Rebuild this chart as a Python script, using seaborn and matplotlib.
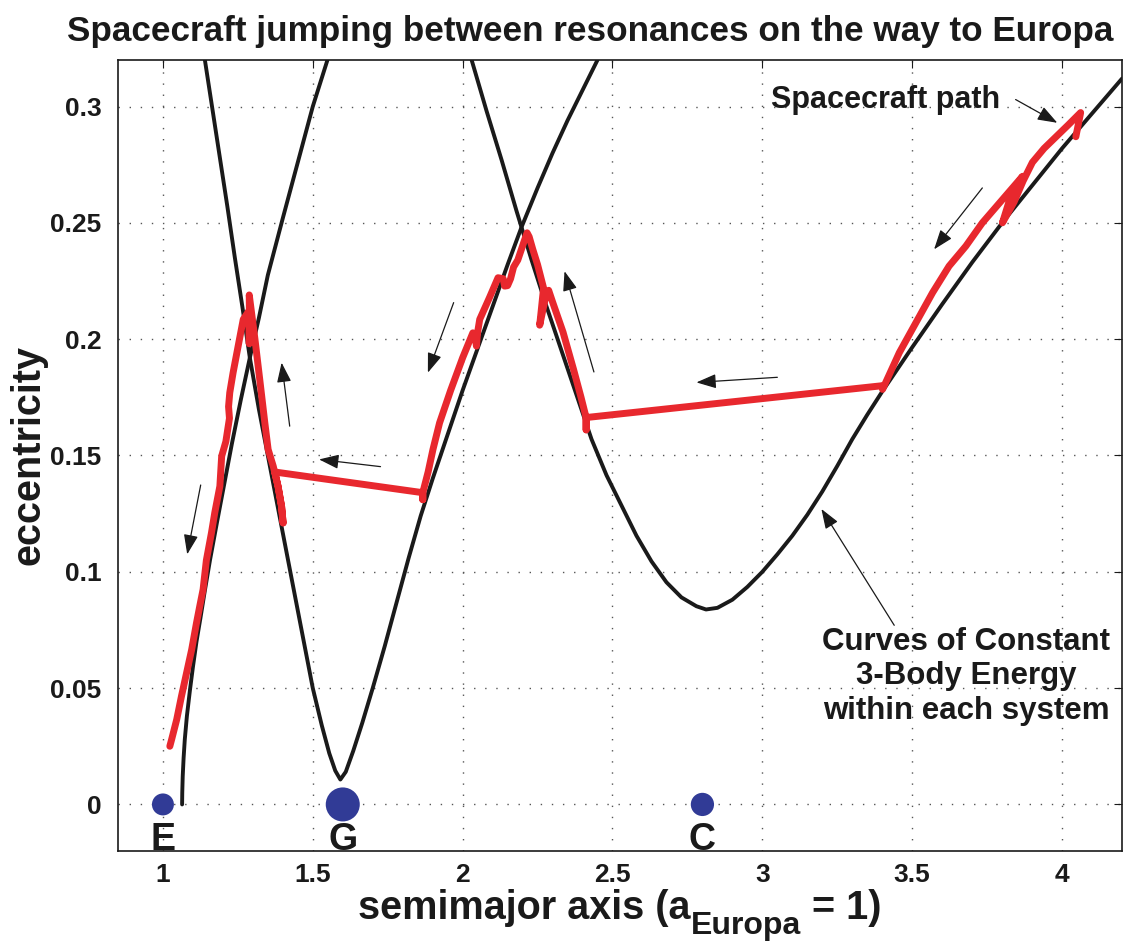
import matplotlib
matplotlib.use("Agg")
import matplotlib.pyplot as plt
import seaborn as sns
import pandas as pd

# ---------------- data ----------------
# Curve of constant 3-body energy, Europa system
europa_a = [1.064, 1.0645, 1.066, 1.069, 1.073, 1.080, 1.090, 1.100, 1.112, 1.125,
            1.140, 1.157, 1.180, 1.205, 1.230, 1.260, 1.290, 1.320, 1.350, 1.400,
            1.450, 1.500, 1.549]
europa_e = [0.000, 0.005, 0.012, 0.020, 0.028, 0.038, 0.049, 0.059, 0.070, 0.080,
            0.092, 0.105, 0.121, 0.138, 0.155, 0.174, 0.192, 0.209, 0.2275, 0.252,
            0.276, 0.300, 0.320]

# Ganymede system (V shape)
ganymede_a = [1.140, 1.165, 1.190, 1.215, 1.240, 1.265, 1.290, 1.320, 1.350, 1.380,
              1.410, 1.440, 1.470, 1.500, 1.530, 1.555, 1.575, 1.592, 1.610, 1.635,
              1.665, 1.700, 1.740, 1.780, 1.820, 1.860, 1.900, 1.950, 2.000, 2.050,
              2.100, 2.150, 2.196, 2.250, 2.300, 2.350, 2.400, 2.450]
ganymede_e = [0.320, 0.299, 0.278, 0.257, 0.235, 0.214, 0.192, 0.170, 0.150, 0.130,
              0.110, 0.090, 0.070, 0.050, 0.034, 0.022, 0.0145, 0.0107, 0.014, 0.023,
              0.035, 0.050, 0.068, 0.087, 0.106, 0.124, 0.140, 0.159, 0.178, 0.196,
              0.214, 0.232, 0.248, 0.265, 0.280, 0.294, 0.307, 0.320]

# Callisto system (U shape)
callisto_a = [2.030, 2.080, 2.130, 2.180, 2.230, 2.280, 2.330, 2.380, 2.430, 2.480,
              2.530, 2.580, 2.630, 2.680, 2.730, 2.780, 2.812, 2.850, 2.900, 2.950,
              3.000, 3.050, 3.100, 3.150, 3.200, 3.250, 3.300, 3.350, 3.400, 3.450,
              3.500, 3.600, 3.700, 3.800, 3.900, 4.000, 4.100, 4.200]
callisto_e = [0.320, 0.298, 0.277, 0.255, 0.234, 0.214, 0.195, 0.176, 0.157, 0.1415,
              0.1285, 0.1155, 0.1045, 0.0955, 0.0890, 0.0852, 0.0838, 0.0845, 0.0880, 0.0935,
              0.1000, 0.1075, 0.1155, 0.1245, 0.1345, 0.1455, 0.1570, 0.1675, 0.1775, 0.1870,
              0.1965, 0.2150, 0.2330, 0.2500, 0.2660, 0.2820, 0.2970, 0.3120]

# Spacecraft path (in time order, from Callisto inward)
path_a = [4.046, 4.062, 4.020, 3.980, 3.940, 3.901, 3.870, 3.840, 3.801, 3.830, 3.868,
          3.868, 3.801, 3.734, 3.679, 3.623, 3.568, 3.512, 3.457, 3.401,
          3.401, 2.412, 2.412, 2.412,
          2.395, 2.370, 2.335, 2.300, 2.287, 2.275, 2.262, 2.257, 2.262, 2.270,
          2.250, 2.234, 2.222, 2.215, 2.205, 2.184, 2.170, 2.160, 2.150, 2.140,
          2.135, 2.118, 2.090, 2.057, 2.050, 2.046, 2.043, 2.034, 2.000, 1.960,
          1.923, 1.901, 1.885, 1.867, 1.867, 1.867,
          1.373, 1.384, 1.396, 1.401, 1.396, 1.384, 1.368, 1.351, 1.340, 1.323,
          1.307, 1.296, 1.288, 1.289, 1.288, 1.286, 1.268, 1.251, 1.234, 1.223,
          1.219, 1.222, 1.210, 1.196, 1.190, 1.173, 1.162, 1.145, 1.134, 1.123,
          1.112, 1.096, 1.079, 1.062, 1.046, 1.029, 1.023]
path_e = [0.287, 0.2974, 0.292, 0.287, 0.282, 0.276, 0.268, 0.259, 0.250, 0.262, 0.270,
          0.270, 0.260, 0.250, 0.240, 0.2314, 0.220, 0.207, 0.1942, 0.1784,
          0.1800, 0.1663, 0.161, 0.1663,
          0.175, 0.187, 0.203, 0.216, 0.221, 0.217, 0.209, 0.206, 0.212, 0.222,
          0.232, 0.2386, 0.244, 0.2457, 0.242, 0.234, 0.231, 0.226, 0.223, 0.2228,
          0.226, 0.2264, 0.218, 0.2085, 0.203, 0.197, 0.200, 0.2027, 0.192, 0.178,
          0.164, 0.1526, 0.143, 0.134, 0.131, 0.134,
          0.1429, 0.1368, 0.128, 0.121, 0.128, 0.1368, 0.1454, 0.1526, 0.164, 0.1827,
          0.200, 0.211, 0.219, 0.205, 0.198, 0.212, 0.2085, 0.197, 0.1855, 0.177,
          0.171, 0.166, 0.156, 0.1497, 0.1368, 0.1254, 0.1168, 0.105, 0.0924, 0.0853,
          0.078, 0.0666, 0.0566, 0.0466, 0.0365, 0.0279, 0.025]

# Moons
moon_names = ["E", "G", "C"]
moon_a = [1.0, 1.6, 2.8]
moon_e = [0.0, 0.0, 0.0]
moon_size = [250, 600, 280]

# Direction arrows: (tail_a, tail_e, head_a, head_e)
arrow_tail_a = [1.126, 1.423, 1.726, 1.970, 2.438, 3.050, 3.734, 3.845, 3.440]
arrow_tail_e = [0.1373, 0.1626, 0.1452, 0.2157, 0.1859, 0.1836, 0.2650, 0.3030, 0.0770]
arrow_head_a = [1.081, 1.396, 1.521, 1.884, 2.340, 2.780, 3.573, 3.984, 3.197]
arrow_head_e = [0.1075, 0.1899, 0.1483, 0.1856, 0.2292, 0.1814, 0.2386, 0.2930, 0.1270]

xticks = [1, 1.5, 2, 2.5, 3, 3.5, 4]
xticklabels = ["1", "1.5", "2", "2.5", "3", "3.5", "4"]
yticks = [0, 0.05, 0.1, 0.15, 0.2, 0.25, 0.3]
yticklabels = ["0", "0.05", "0.1", "0.15", "0.2", "0.25", "0.3"]

title = "Spacecraft jumping between resonances on the way to Europa"
label_path = "Spacecraft path"
label_curves = "Curves of Constant\n3-Body Energy\nwithin each system"
xlabel_parts = ["semimajor axis (a", "Europa", " = 1)"]
ylabel = "eccentricity"

# ---------------- style ----------------
sns.set_theme(style="white")
plt.rcParams["font.family"] = ["Liberation Sans", "DejaVu Sans"]
plt.rcParams["font.weight"] = "bold"

INK = "#1a1a1a"
fig = plt.figure(figsize=(11.42, 9.43), dpi=100)
ax = fig.add_axes([0.1033, 0.0976, 0.8792, 0.8388])

curve_kw = dict(color=INK, linewidth=2.8, sort=False, estimator=None, ax=ax, legend=False)
for xa, ye in [(europa_a, europa_e), (ganymede_a, ganymede_e), (callisto_a, callisto_e)]:
    sns.lineplot(x=xa, y=ye, **curve_kw)

sns.lineplot(x=path_a, y=path_e, color="#e8282e", linewidth=5.0, sort=False,
             estimator=None, ax=ax, legend=False,
             solid_capstyle="round", solid_joinstyle="round")

moons = pd.DataFrame({"a": moon_a, "e": moon_e, "s": moon_size, "name": moon_names})
sns.scatterplot(data=moons, x="a", y="e", size="s", sizes=(min(moon_size), max(moon_size)),
                color="#313b96", edgecolor="none", legend=False, ax=ax, zorder=5)
for n, a in zip(moon_names, moon_a):
    ax.text(a, -0.0075, n, ha="center", va="top", fontsize=27, fontweight="bold",
            color=INK, clip_on=True)

arrow_props = dict(arrowstyle="-|>,head_length=0.55,head_width=0.2", color=INK,
                   lw=0.9, shrinkA=0, shrinkB=0, mutation_scale=22)
for ta, te, ha_, he in zip(arrow_tail_a, arrow_tail_e, arrow_head_a, arrow_head_e):
    ax.annotate("", xy=(ha_, he), xytext=(ta, te), arrowprops=arrow_props)

ax.text(3.03, 0.303, label_path, fontsize=22, fontweight="bold", va="center",
        ha="left", color=INK)
ax.text(3.68, 0.055, label_curves, fontsize=22.5, fontweight="bold", va="center",
        ha="center", multialignment="center", color=INK)

ax.set_xlim(0.85, 4.2)
ax.set_ylim(-0.02, 0.32)
ax.set_xticks(xticks)
ax.set_xticklabels(xticklabels)
ax.set_yticks(yticks)
ax.set_yticklabels(yticklabels)
ax.tick_params(direction="in", length=6, width=0.8, top=True, right=True,
               labelsize=19, colors=INK, pad=9)
ax.tick_params(axis="y", pad=12)
for lab in ax.get_xticklabels() + ax.get_yticklabels():
    lab.set_fontweight("bold")
ax.grid(True, linestyle=(0, (1, 7)), linewidth=1.0, color="#555555")
for sp in ax.spines.values():
    sp.set_linewidth(1.2)
    sp.set_color(INK)
    sp.set_visible(True)

ax.set_xlabel("")
ax.set_ylabel(ylabel, fontsize=28.5, fontweight="bold", color=INK)
ax.yaxis.set_label_coords(-0.070, 0.5)

fig.text(0.5166, 0.967, title, ha="center", va="center", fontsize=25.3,
         fontweight="bold", color=INK)

# x label with a lowered subscript, assembled from three pieces
fig.canvas.draw()
renderer = fig.canvas.get_renderer()
W, H = fig.bbox.width, fig.bbox.height
base_main = 1 - 919 / H
base_sub = 1 - 934 / H
sizes = [28.5, 23, 28.5]
bases = [base_main, base_sub, base_main]
pieces = []
for txt, fs, yb in zip(xlabel_parts, sizes, bases):
    t = fig.text(0, yb, txt, fontsize=fs, fontweight="bold", color=INK,
                 ha="left", va="baseline")
    pieces.append(t)
widths = [p.get_window_extent(renderer).width for p in pieces]
total = sum(widths)
x_center_px = (0.1033 + 0.8792 / 2) * W
x = x_center_px - total / 2
for p, w in zip(pieces, widths):
    p.set_x(x / W)
    x += w

fig.savefig("out.png", dpi=100)
